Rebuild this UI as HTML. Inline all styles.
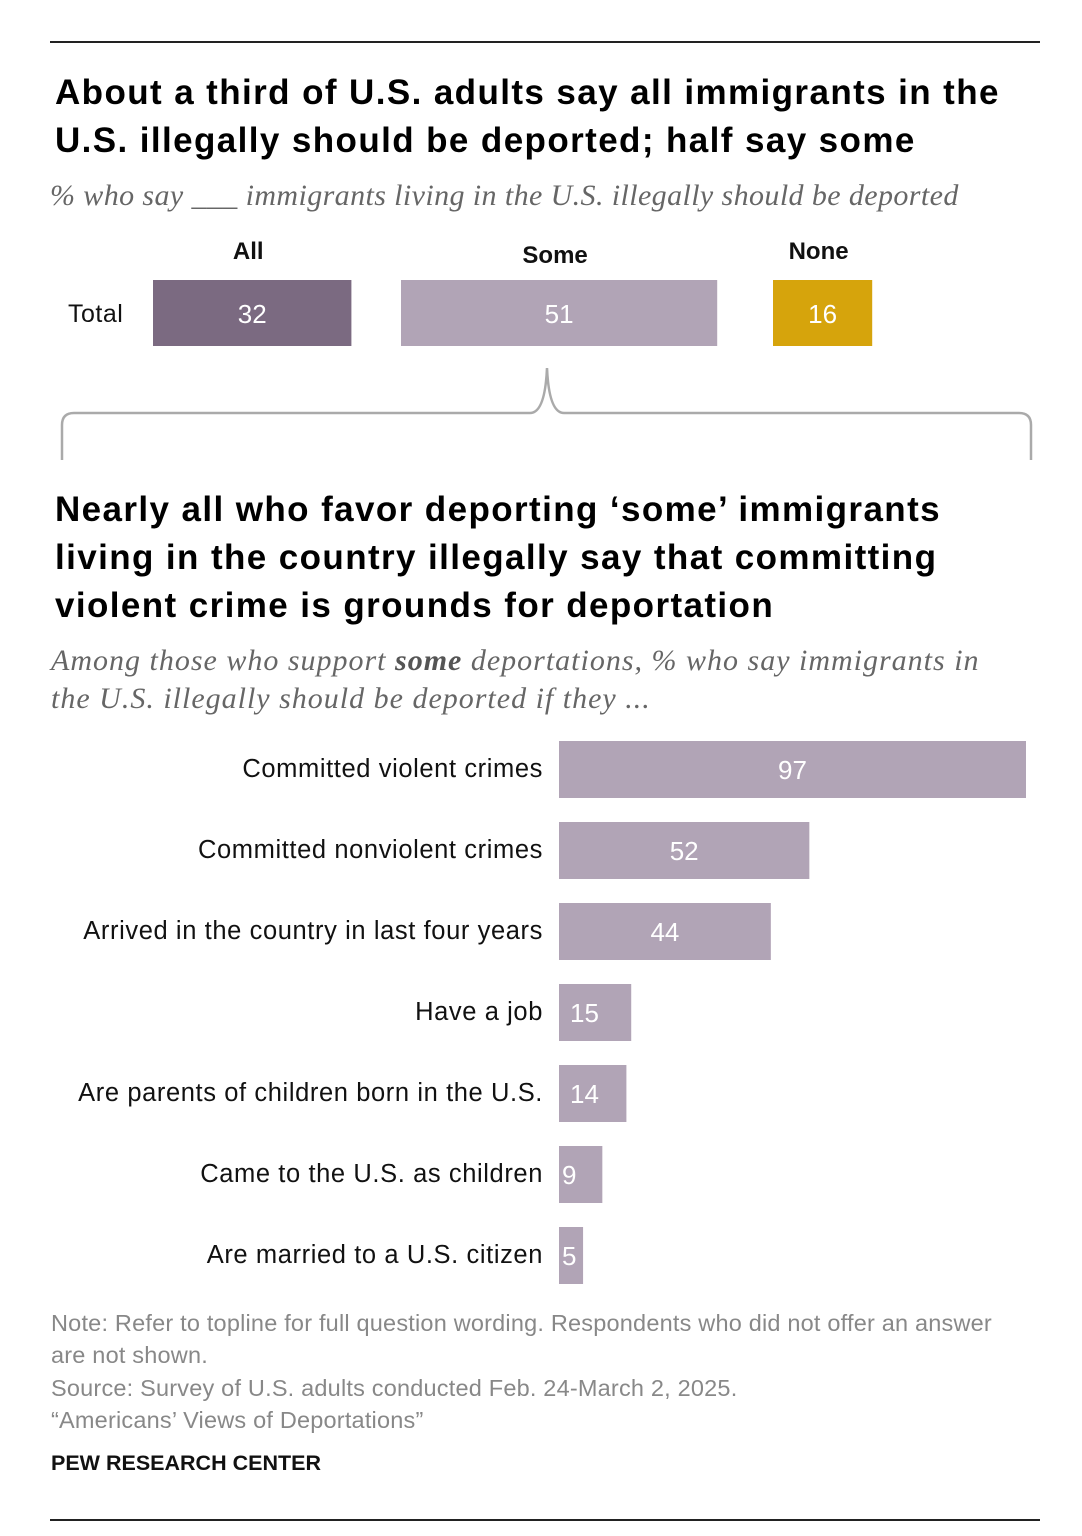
<!DOCTYPE html>
<html><head><meta charset="utf-8"><style>
body{margin:0;background:#fff;width:1082px;height:1536px;position:relative;overflow:hidden;font-family:"Liberation Sans",sans-serif;}
.abs{position:absolute;}
h1{position:absolute;margin:0;font-family:"Liberation Sans",sans-serif;font-weight:900;font-size:35px;line-height:48px;color:#000;letter-spacing:1.4px;}
.sub{position:absolute;font-family:"Liberation Serif",serif;font-style:italic;font-size:30px;color:#666;line-height:38px;letter-spacing:0.4px;}
.note{position:absolute;left:51px;font-size:23.5px;color:#888;line-height:32px;letter-spacing:0.2px;}
</style></head><body>
<div class="abs" style="left:50px;top:41px;width:990px;height:2px;background:#222"></div>
<h1 style="left:55px;top:69px">About a third of U.S. adults say all immigrants in the<br>U.S. illegally should be deported; half say some</h1>
<div class="sub" style="left:50px;top:177px">% who say ___ immigrants living in the U.S. illegally should be deported</div>
<svg class="abs" style="left:0;top:0" width="1082" height="1536" id="chart"></svg>
<h1 style="left:55px;top:486px">Nearly all who favor deporting ‘some’ immigrants<br>living in the country illegally say that committing<br>violent crime is grounds for deportation</h1>
<div class="sub" style="left:51px;top:642px;letter-spacing:1px">Among those who support <b style="color:#555">some</b> deportations, % who say immigrants in<br>the U.S. illegally should be deported if they ...</div>
<div class="note" style="top:1307px">Note: Refer to topline for full question wording. Respondents who did not offer an answer<br>are not shown.</div>
<div class="note" style="top:1372px">Source: Survey of U.S. adults conducted Feb. 24-March 2, 2025.<br>“Americans’ Views of Deportations”</div>
<div class="abs" style="left:51px;top:1451px;font-size:21.5px;font-weight:bold;color:#111">PEW RESEARCH CENTER</div>
<div class="abs" style="left:50px;top:1519px;width:990px;height:2px;background:#222"></div>
<script>
const topCats=["All","Some","None"];
const topVals=[32,51,16];
const cats=["Committed violent crimes","Committed nonviolent crimes","Arrived in the country in last four years","Have a job","Are parents of children born in the U.S.","Came to the U.S. as children","Are married to a U.S. citizen"];
const vals=[97,52,44,15,14,9,5];
const NS="http://www.w3.org/2000/svg";
const svg=document.getElementById('chart');
function mk(t,a,txt){const e=document.createElementNS(NS,t);for(const k in a)e.setAttribute(k,a[k]);if(txt!=null)e.textContent=txt;svg.appendChild(e);return e;}
const topX=[153,401,773], topColors=["#7b6a81","#b1a4b6","#d6a40c"];
const tScale=v=>v*6.2;
let lt=mk('text',{x:68,y:322,'font-size':25,fill:'#111','font-family':'Liberation Sans','letter-spacing':0.5},'Total');

topVals.forEach((v,i)=>{
 const w=tScale(v);
 const r=mk('rect',{x:topX[i],y:280,width:w,height:66,fill:topColors[i]});
 
 
 const t=mk('text',{x:topX[i]+w/2,y:323,'text-anchor':'middle','font-size':26,fill:'#fff','font-family':'Liberation Sans'},v);
 
 
 const h=mk('text',{x:topX[i]+w/2-4,y:i==1?263:259,'text-anchor':'middle','font-size':24,'font-weight':'bold',fill:'#111','font-family':'Liberation Sans'},topCats[i]);
 
 
});
const br=mk('path',{d:'M62,460 L62,425 Q62,413 74,413 L530,413 Q545,413 547,368 Q549,413 564,413 L1019,413 Q1031,413 1031,425 L1031,460',fill:'none',stroke:'#aaa','stroke-width':2.5});


const x0=559, sc=467/97, y0=741, step=81, bh=57;
vals.forEach((v,i)=>{
 const y=y0+i*step, w=v*sc;
 const r=mk('rect',{x:x0,y:y,width:w,height:bh,fill:'#b1a4b6'});
 
 
 const big=v>=20;
 const t=mk('text',{x:big?x0+w/2:x0+(v<10?3:11),y:y+38,'text-anchor':big?'middle':'start','font-size':26,fill:'#fff','font-family':'Liberation Sans'},v);
 
 
 const c=mk('text',{x:543,y:y+36,'text-anchor':'end','font-size':25.5,fill:'#111','font-family':'Liberation Sans','letter-spacing':0.6},cats[i]);
 
 
});
</script>
</body></html>
